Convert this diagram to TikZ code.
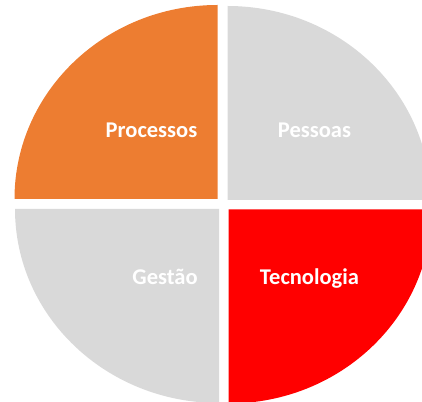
\documentclass[tikz,border=0pt]{standalone}
\usepackage{fontspec}
\setmainfont{Carlito}
\usetikzlibrary{positioning}
\definecolor{laranja}{HTML}{ED7D31}
\definecolor{cinza}{HTML}{D9D9D9}
\definecolor{vermelho}{HTML}{FF0000}

\begin{document}
\begin{tikzpicture}[x=1pt, y=1pt,
  rotulo/.style={text=white, anchor=base, font=\fontsize{22.5}{27}\selectfont\bfseries}]

\useasboundingbox (0,0) rectangle (422,401);
\clip (0,0) rectangle (422,401);

% quadrantes
\fill[laranja] (217.5,202) -- ++(-203pt,0) arc[start angle=180, end angle=90, x radius=203pt, y radius=194pt] -- cycle;
\fill[cinza] (227.5,201) -- ++(0,194pt) arc[start angle=90, end angle=0, x radius=203pt, y radius=194pt] -- cycle;
\fill[cinza] (219,192) -- ++(-204pt,0) arc[start angle=180, end angle=270, x radius=204pt, y radius=194pt] -- cycle;
\fill[vermelho] (228.5,191.5) -- ++(203pt,0) arc[start angle=0, end angle=-90, x radius=203pt, y radius=194pt] -- cycle;

% rotulos
\node[rotulo] (processos) at (151.5,263.5) {Processos};
\node[rotulo] (pessoas) at (314.5,263.5) {Pessoas};
\node[rotulo] (gestao) at (165,116.5) {Gestão};
\node[rotulo] (tecnologia) at (309.5,116.5) {Tecnologia};

\end{tikzpicture}
\end{document}
